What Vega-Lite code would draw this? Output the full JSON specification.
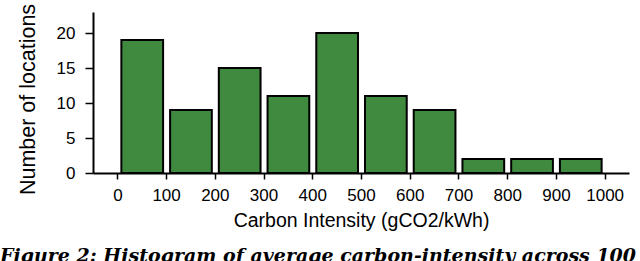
{
  "$schema": "https://vega.github.io/schema/vega-lite/v6.json",
  "autosize": "none",
  "width": 536,
  "height": 161,
  "padding": {"left": 93, "top": 12, "right": 11, "bottom": 89},
  "background": "white",
  "title": {
    "text": "Figure 2: Histogram of average carbon-intensity across 100",
    "orient": "bottom",
    "anchor": "start",
    "frame": "group",
    "dx": -93,
    "offset": 17,
    "font": "DejaVu Serif",
    "fontSize": 19,
    "fontStyle": "italic",
    "fontWeight": "bold",
    "color": "black",
    "baseline": "top"
  },
  "data": {
    "values": [
      {"bin_start": 0, "bin_end": 100, "count": 19},
      {"bin_start": 100, "bin_end": 200, "count": 9},
      {"bin_start": 200, "bin_end": 300, "count": 15},
      {"bin_start": 300, "bin_end": 400, "count": 11},
      {"bin_start": 400, "bin_end": 500, "count": 20},
      {"bin_start": 500, "bin_end": 600, "count": 11},
      {"bin_start": 600, "bin_end": 700, "count": 9},
      {"bin_start": 700, "bin_end": 800, "count": 2},
      {"bin_start": 800, "bin_end": 900, "count": 2},
      {"bin_start": 900, "bin_end": 1000, "count": 2}
    ]
  },
  "mark": {"type": "bar", "fill": "#3f8a3f", "stroke": "black", "strokeWidth": 2, "binSpacing": 7},
  "encoding": {
    "x": {
      "field": "bin_start",
      "type": "quantitative",
      "bin": "binned",
      "scale": {"domain": [-50, 1050], "nice": false, "zero": false},
      "axis": {
        "title": "Carbon Intensity (gCO2/kWh)",
        "values": [0, 100, 200, 300, 400, 500, 600, 700, 800, 900, 1000],
        "format": "d",
        "grid": false,
        "tickSize": 6,
        "labelPadding": 8,
        "titlePadding": 8,
        "labelFlush": false,
        "labelOverlap": false
      }
    },
    "x2": {"field": "bin_end"},
    "y": {
      "field": "count",
      "type": "quantitative",
      "scale": {"domain": [0, 23], "nice": false},
      "axis": {
        "title": "Number of locations",
        "values": [0, 5, 10, 15, 20],
        "grid": false,
        "tickSize": 8,
        "labelPadding": 10,
        "titlePadding": 17,
        "titleFontSize": 21.5,
        "titleY": 87
      }
    }
  },
  "config": {
    "view": {"stroke": null},
    "axis": {
      "domainColor": "black",
      "domainWidth": 2,
      "tickColor": "black",
      "tickWidth": 1.5,
      "labelColor": "black",
      "labelFont": "Liberation Sans",
      "labelFontSize": 17,
      "titleColor": "black",
      "titleFont": "Liberation Sans",
      "titleFontSize": 19.5,
      "titleFontWeight": "normal"
    }
  }
}
